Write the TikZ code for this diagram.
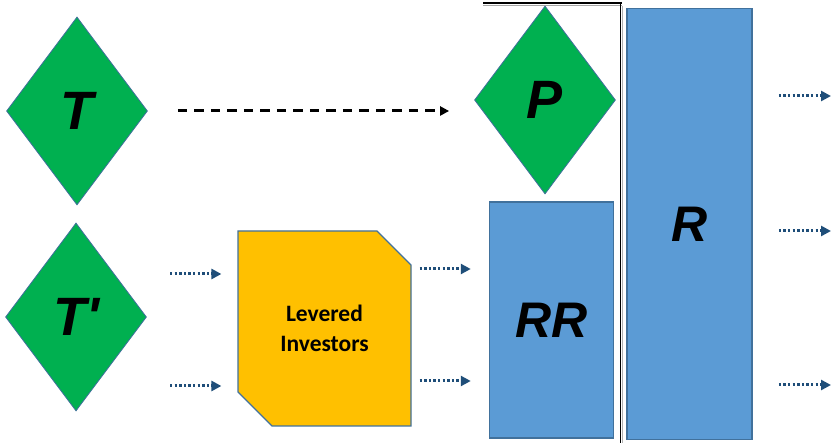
\documentclass[tikz,border=0pt]{standalone}
\usepackage{fontspec}
\setmainfont{Liberation Sans}
\newfontfamily\labelfont{Liberation Sans}
\newfontfamily\calibri{Carlito}
\usetikzlibrary{shapes.geometric,shapes.misc,arrows.meta,positioning}

\definecolor{tgreen}{HTML}{00B050}
\definecolor{rblue}{HTML}{5B9BD5}
\definecolor{edgeblue}{HTML}{41719C}
\definecolor{levgold}{HTML}{FFC000}
\definecolor{flowblue}{HTML}{1F4E79}

\tikzset{
  tranche/.style={diamond, draw=edgeblue, line width=0.8pt, fill=tgreen, inner sep=0pt,
    minimum width=141pt, minimum height=188pt,
    font=\labelfont\fontsize{54}{54}\selectfont\bfseries\itshape},
  pool/.style={rectangle, draw=edgeblue, line width=1.5pt, fill=rblue, inner sep=0pt,
    font=\labelfont\fontsize{50}{50}\selectfont\bfseries\itshape},
  levered/.style={chamfered rectangle, chamfered rectangle corners={north east,south west},
    chamfered rectangle xsep=17pt, chamfered rectangle ysep=17pt,
    draw=edgeblue, line width=1.2pt, fill=levgold, inner sep=0pt,
    minimum width=173pt, minimum height=195pt, align=center,
    font=\calibri\fontsize{23.5}{30}\selectfont\bfseries},
  flow/.style={flowblue, line width=3pt, dash pattern=on 2.4pt off 2.2pt,
    -{Triangle[length=10pt,width=10pt]}},
  link/.style={black, line width=3pt, dash pattern=on 9.5pt off 7pt,
    -{Triangle[length=9pt,width=9pt]}}
}

\begin{document}
\begin{tikzpicture}[x=1pt,y=-1pt]
  \useasboundingbox (0,0) rectangle (833,443);

  % tranches
  \node[tranche] (T) at (77,111) {T};
  \node[tranche] (T2) at (76,317) {T'};
  \node[tranche] (P) at (545,100) {P};

  % leveraged investors and the pools
  \node[levered] (L) at (324.5,328.5) {Levered\\Investors};
  \node[pool, minimum width=124pt, minimum height=236pt] (RR) at (551.5,320) {RR};
  \node[pool, minimum width=125pt, minimum height=431pt] (R) at (689.5,224) {R};

  % separators
  \draw[black, line width=2pt] (483,3.5) -- (622,3.5);
  \draw[gray!70, line width=1pt] (483,6) -- (622,6);
  \draw[black, line width=1.6pt] (620.3,4) -- (620.3,443);
  \draw[gray!60, line width=0.8pt] (622.4,6) -- (622.4,443);

  % free ends
  \coordinate (in1) at (170,274);
  \coordinate (in2) at (170,386);
  \coordinate (out1) at (831,96);
  \coordinate (out2) at (831,231);
  \coordinate (out3) at (831,385);

  \draw[link, shorten <=30pt, shorten >=25pt] (T.east) -- (T.east -| P.west);
  \draw[flow, shorten >=16pt] (in1) -- (in1 -| L.west);
  \draw[flow, shorten >=16pt] (in2) -- (in2 -| L.west);
  \draw[flow, shorten <=8pt, shorten >=18pt] (L.east |- 0,269) -- (RR.west |- 0,269);
  \draw[flow, shorten <=8pt, shorten >=18pt] (L.east |- 0,381) -- (RR.west |- 0,381);
  \draw[flow, shorten <=26pt] (out1 -| R.east) -- (out1);
  \draw[flow, shorten <=26pt] (out2 -| R.east) -- (out2);
  \draw[flow, shorten <=26pt] (out3 -| R.east) -- (out3);
\end{tikzpicture}
\end{document}
